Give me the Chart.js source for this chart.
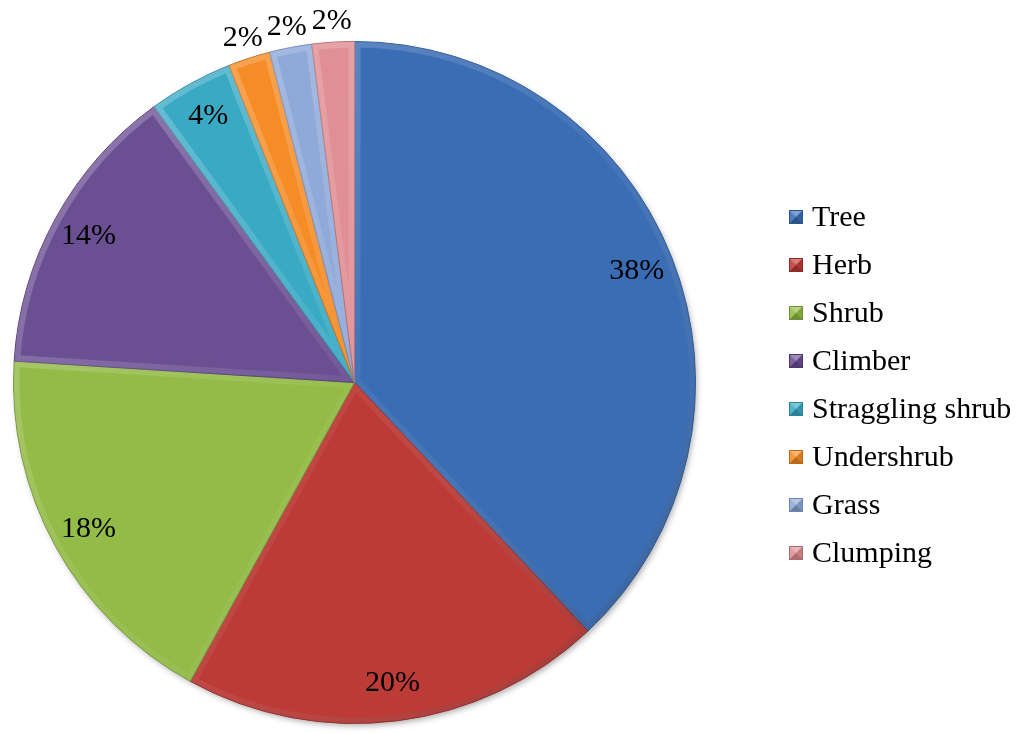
<!DOCTYPE html>
<html>
<head>
<meta charset="utf-8">
<script src="https://cdn.jsdelivr.net/npm/chart.js@4"></script>
<style>
  html, body { margin: 0; padding: 0; background: #fff; }
  #wrap { width: 1023px; height: 733px; position: relative; }
</style>
</head>
<body>
<div id="wrap"><canvas id="pie"></canvas></div>
<script>
// plant habit categories and their share (%)
const categories = ['Tree', 'Herb', 'Shrub', 'Climber', 'Straggling shrub', 'Undershrub', 'Grass', 'Clumping'];
const shares = [38, 20, 18, 14, 4, 2, 2, 2];
const sliceColors = ['#3a6db4', '#bd3b37', '#93bb47', '#6b4f93', '#3aaac4', '#f58c26', '#8fa9d9', '#e08f94'];
const edgeColors = ['#2b5590', '#8f2a27', '#6f9132', '#4e386f', '#2a8399', '#c06a16', '#6a84b4', '#b06a6f'];

const FONT = "'Liberation Serif', 'Times New Roman', serif";

// shadow under the whole pie
const pieShadow = {
  id: 'pieShadow',
  beforeDatasetsDraw(chart) {
    const arc = chart.getDatasetMeta(0).data[0];
    if (!arc) return;
    const ctx = chart.ctx;
    ctx.save();
    ctx.shadowColor = 'rgba(0,0,0,0.35)';
    ctx.shadowBlur = 6;
    ctx.shadowOffsetX = 2;
    ctx.shadowOffsetY = 3;
    ctx.fillStyle = '#fff';
    ctx.beginPath();
    ctx.arc(arc.x, arc.y, arc.outerRadius - 1, 0, Math.PI * 2);
    ctx.fill();
    ctx.restore();
  }
};

// soft bevel on each slice
const sliceBevel = {
  id: 'sliceBevel',
  afterDatasetsDraw(chart) {
    const ctx = chart.ctx;
    chart.getDatasetMeta(0).data.forEach(arc => {
      const p = arc.getProps(['x', 'y', 'startAngle', 'endAngle', 'outerRadius']);
      ctx.save();
      ctx.beginPath();
      ctx.moveTo(p.x, p.y);
      ctx.arc(p.x, p.y, p.outerRadius, p.startAngle, p.endAngle);
      ctx.closePath();
      ctx.clip();
      const g = ctx.createLinearGradient(p.x - p.outerRadius, p.y - p.outerRadius, p.x + p.outerRadius, p.y + p.outerRadius);
      g.addColorStop(0, 'rgba(255,255,255,0.28)');
      g.addColorStop(0.5, 'rgba(255,255,255,0.05)');
      g.addColorStop(1, 'rgba(0,0,0,0.22)');
      ctx.strokeStyle = g;
      ctx.lineWidth = 12;
      ctx.lineJoin = 'round';
      ctx.stroke();
      ctx.restore();
    });
  }
};

// percentage labels
const pctLabels = {
  id: 'pctLabels',
  afterDraw(chart) {
    const ctx = chart.ctx;
    ctx.save();
    ctx.font = '30px ' + FONT;
    ctx.fillStyle = '#000';
    ctx.textAlign = 'center';
    ctx.textBaseline = 'middle';
    chart.getDatasetMeta(0).data.forEach((arc, i) => {
      const p = arc.getProps(['x', 'y', 'startAngle', 'endAngle', 'outerRadius']);
      const mid = (p.startAngle + p.endAngle) / 2;
      const dist = shares[i] <= 2 ? p.outerRadius + 21 : p.outerRadius * 0.89;
      ctx.fillText(shares[i] + '%', p.x + Math.cos(mid) * dist, p.y + Math.sin(mid) * dist);
    });
    ctx.restore();
  }
};

// legend on the right with bevelled squares
const sideLegend = {
  id: 'sideLegend',
  afterDraw(chart) {
    const ctx = chart.ctx;
    const x0 = 789, y0 = 217, step = 48, s = 14;
    ctx.save();
    ctx.font = '30px ' + FONT;
    ctx.textBaseline = 'middle';
    ctx.textAlign = 'left';
    categories.forEach((name, i) => {
      const y = y0 + i * step;
      const top = y - s / 2;
      ctx.fillStyle = sliceColors[i];
      ctx.fillRect(x0, top, s, s);
      const tri = (pts, col) => {
        ctx.beginPath();
        ctx.moveTo(pts[0][0], pts[0][1]);
        ctx.lineTo(pts[1][0], pts[1][1]);
        ctx.lineTo(pts[2][0], pts[2][1]);
        ctx.closePath();
        ctx.fillStyle = col;
        ctx.fill();
      };
      const cx = x0 + s / 2, cy = y;
      tri([[x0, top], [x0 + s, top], [cx, cy]], 'rgba(255,255,255,0.35)');
      tri([[x0, top], [x0, top + s], [cx, cy]], 'rgba(255,255,255,0.12)');
      tri([[x0 + s, top], [x0 + s, top + s], [cx, cy]], 'rgba(0,0,0,0.12)');
      tri([[x0, top + s], [x0 + s, top + s], [cx, cy]], 'rgba(0,0,0,0.25)');
      ctx.strokeStyle = edgeColors[i];
      ctx.lineWidth = 1;
      ctx.strokeRect(x0 + 0.5, top + 0.5, s - 1, s - 1);
      ctx.fillStyle = '#000';
      ctx.fillText(name, 812, y + 1);
    });
    ctx.restore();
  }
};

new Chart(document.getElementById('pie'), {
  type: 'pie',
  data: {
    labels: categories,
    datasets: [{
      data: shares,
      backgroundColor: sliceColors,
      borderColor: edgeColors,
      borderWidth: 1
    }]
  },
  options: {
    responsive: true,
    maintainAspectRatio: false,
    animation: false,
    layout: { padding: { left: 13, top: 40, right: 327, bottom: 8 } },
    plugins: {
      legend: { display: false },
      tooltip: { enabled: false }
    }
  },
  plugins: [pieShadow, sliceBevel, pctLabels, sideLegend]
});
</script>
</body>
</html>
